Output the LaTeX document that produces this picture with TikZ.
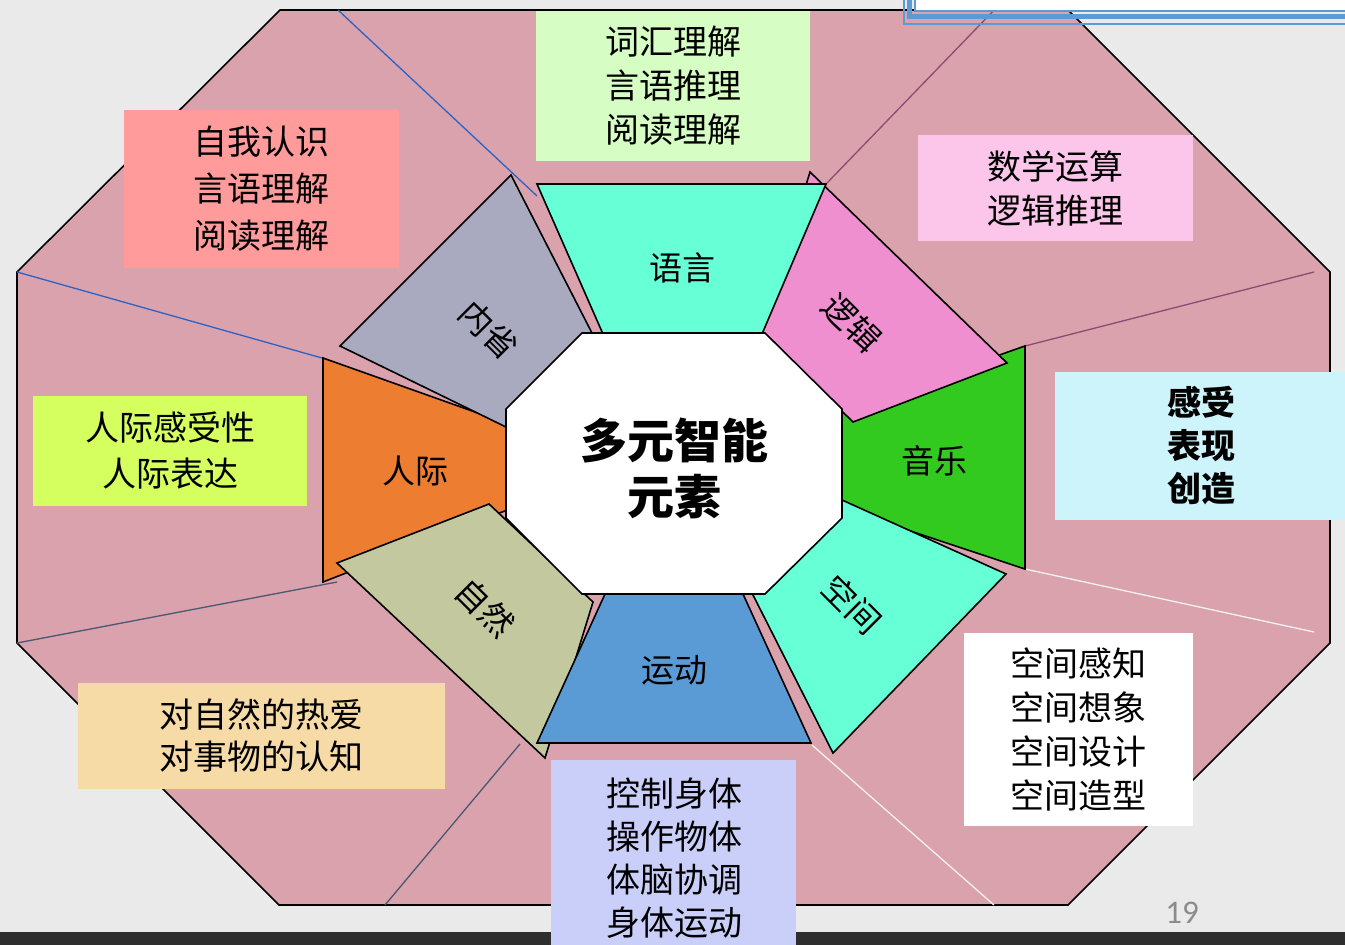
\documentclass[tikz,border=0pt]{standalone}
\usepackage{fontspec}
\newfontfamily\cjk{Noto Sans CJK SC}
\newfontfamily\numfont{Carlito}
\definecolor{bgc}{HTML}{EAEAEA}
\definecolor{stripc}{HTML}{2E2E2E}
\definecolor{outerpink}{HTML}{D9A2AD}
\definecolor{cself}{HTML}{FF9B9B}
\definecolor{cword}{HTML}{D6FDC3}
\definecolor{cmath}{HTML}{FBC6E9}
\definecolor{cfeel}{HTML}{CDF4FA}
\definecolor{cspace}{HTML}{FFFFFF}
\definecolor{cbody}{HTML}{C9CFF8}
\definecolor{cnat}{HTML}{F7DBA7}
\definecolor{cinter}{HTML}{D4FF5E}
\definecolor{paqua}{HTML}{66FFD6}
\definecolor{plogic}{HTML}{F08FD0}
\definecolor{pmusic}{HTML}{33CA1F}
\definecolor{psport}{HTML}{5B9BD5}
\definecolor{pnature}{HTML}{C4C89F}
\definecolor{pinter}{HTML}{ED7D31}
\definecolor{pintra}{HTML}{A9A9BF}
\definecolor{lblue}{HTML}{2B62C4}
\definecolor{lpurple}{HTML}{8E4A72}
\definecolor{lslate}{HTML}{4A5870}
\definecolor{lwhite}{HTML}{F2F2F2}
\definecolor{framec}{HTML}{5B9BD5}
\begin{document}
\begin{tikzpicture}[x=1pt,y=-1pt,
  box/.style={inner sep=0pt, align=center, text=black},
  boxfont/.style={font=\cjk\fontsize{34}{44}\selectfont},
  petal/.style={draw=black, line width=1.6pt, line join=miter},
  plabel/.style={font=\cjk\fontsize{33}{40}\selectfont, inner sep=0pt},
  divider/.style={line width=1.3pt},
]
\useasboundingbox (0,0) rectangle (1345,945);
\fill[bgc] (0,0) rectangle (1345,945);
\fill[stripc] (0,932) rectangle (1345,945);

% outer octagon
\draw[fill=outerpink, line width=1.6pt, line join=miter]
  (280,10) -- (1068,10) -- (1330,272) -- (1330,643) -- (1068,905)
  -- (279,905) -- (17,643) -- (17,272) -- cycle;

% dividers
\draw[divider, lblue] (338,10) -- (537,196);
\draw[divider, lblue] (17,272) -- (322,358);
\draw[divider, lslate] (17,643) -- (337,582);
\draw[divider, lslate] (385,905) -- (520,744);
\draw[divider, lwhite] (994,905) -- (812,745);
\draw[divider, lwhite] (1314,632) -- (1025,569);
\draw[divider, lpurple] (1314,272) -- (1025,346);
\draw[divider, lpurple] (1000,4) -- (827,183);

% text boxes
\node[box, boxfont, fill=cself, minimum width=275pt, minimum height=158pt,
  font=\cjk\fontsize{34}{47}\selectfont] (self) at (261.5,189) {自我认识\\言语理解\\阅读理解};
\node[box, boxfont, fill=cword, minimum width=274pt, minimum height=150pt] (word) at (673,85.5) {词汇理解\\言语推理\\阅读理解};
\node[box, boxfont, fill=cmath, minimum width=275pt, minimum height=106pt] (math) at (1055.5,188) {数学运算\\逻辑推理};
\node[box, fill=cfeel, minimum width=292pt, minimum height=148pt,
  font=\cjk\bfseries\fontsize{34}{43}\selectfont] (feel) at (1201,446) {感受\\表现\\创造};
\node[box, boxfont, fill=cspace, minimum width=229pt, minimum height=193pt] (spacebox) at (1078.5,729) {空间感知\\空间想象\\空间设计\\空间造型};
\fill[cbody] (551,760) rectangle (796,945);
\node[box, boxfont, font=\cjk\fontsize{34}{43}\selectfont] (body) at (674,858) {控制身体\\操作物体\\体脑协调\\身体运动};
\node[box, boxfont, fill=cnat, minimum width=367pt, minimum height=106pt,
  font=\cjk\fontsize{34}{42}\selectfont] (nat) at (261.5,735.5) {对自然的热爱\\对事物的认知};
\node[box, boxfont, fill=cinter, minimum width=274pt, minimum height=110pt,
  font=\cjk\fontsize{34}{46}\selectfont] (inter) at (170,451) {人际感受性\\人际表达};

% petals
\draw[petal, fill=pmusic] (820,418) -- (1025,346) -- (1025,569) -- (820,501) -- cycle;
\draw[petal, fill=pinter] (323,358) -- (520,428) -- (520,505) -- (323,582) -- cycle;
\draw[petal, fill=plogic] (810,172) -- (1007,363) -- (853,422) -- (761,332) -- cycle;
\draw[petal, fill=paqua] (842,500) -- (1006,574) -- (833,753) -- (753,595) -- cycle;
\draw[petal, fill=pintra] (511,175) -- (593,335) -- (506,427) -- (340,346) -- cycle;
\draw[petal, fill=pnature] (337,563) -- (489,504) -- (593,602) -- (545,758) -- cycle;
\draw[petal, fill=paqua] (537,184) -- (826,184) -- (762,334) -- (603,334) -- cycle;
\draw[petal, fill=psport] (605,594) -- (743,594) -- (811,743) -- (537,743) -- cycle;

% centre octagon
\draw[petal, fill=white] (582,333) -- (765,333) -- (842,409) -- (842,518)
  -- (765,594) -- (582,594) -- (506,518) -- (506,409) -- cycle;
\node[box, font=\cjk\bfseries\fontsize{47}{56}\selectfont] (centre) at (674,468) {多元智能\\元素};

% petal labels
\node[plabel] (lyuyan) at (682,268) {语言};
\node[plabel, rotate=-45] (lluoji) at (852,323) {逻辑};
\node[plabel] (lyinyue) at (934,461) {音乐};
\node[plabel, rotate=-45] (lkongjian) at (852,605) {空间};
\node[plabel] (lyundong) at (674,670) {运动};
\node[plabel, rotate=-45] (lziran) at (485,608) {自然};
\node[plabel] (lrenji) at (415,471) {人际};
\node[plabel, rotate=-45] (lneixing) at (489,330) {内省};

% top-right frame
\fill[white] (914,-5) rectangle (1350,10);
\draw[framec, line width=2pt] (904,-10) rectangle (1352,24);
\draw[framec, line width=5pt] (909.5,-10) rectangle (1352,16);
\draw[framec, line width=2pt] (915,-10) rectangle (1352,10.5);

% page number
\node[font=\numfont\fontsize{33}{36}\selectfont, text=black!45, inner sep=0pt] (pagenum) at (1182,913) {19};
\end{tikzpicture}
\end{document}
